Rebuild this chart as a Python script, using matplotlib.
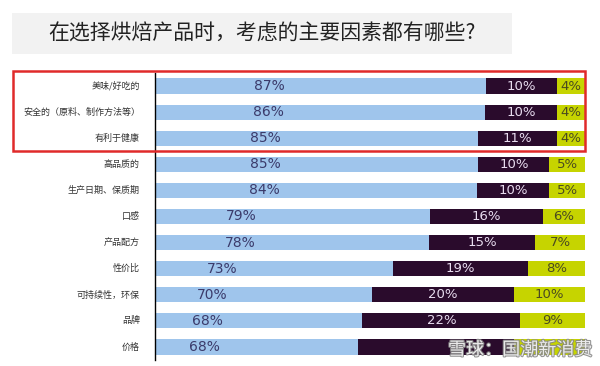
import matplotlib
matplotlib.use("Agg")
import matplotlib.pyplot as plt
from matplotlib.patches import Rectangle
import matplotlib.patheffects as pe

plt.rcParams['font.family'] = ['Noto Sans CJK SC', 'DejaVu Sans']

title = "在选择烘焙产品时，考虑的主要因素都有哪些?"
categories = ["美味/好吃的", "安全的（原料、制作方法等）", "有利于健康", "高品质的",
              "生产日期、保质期", "口感", "产品配方", "性价比", "可持续性，环保", "品牌", "价格"]
important = [87, 86, 85, 85, 84, 79, 78, 73, 70, 68, 68]
neutral = [10, 10, 11, 10, 10, 16, 15, 19, 20, 22, 22]
unimportant = [4, 4, 4, 5, 5, 6, 7, 8, 10, 9, 10]
show_label = [True] * 10 + [False]

c_blue = "#9fc5ec"
c_dark = "#2a0b2c"
c_lime = "#c6d400"

fig = plt.figure(figsize=(6, 3.66), dpi=100)
ax = fig.add_axes([155/600, 1-360/366, (585-155)/600, 287/366])

n = len(categories)
ys = list(range(n))
h = 0.58
left_lim = 39.5

tot = [a + b + c for a, b, c in zip(important, neutral, unimportant)]
w1 = [a * 100 / t for a, t in zip(important, tot)]
w2 = [b * 100 / t for b, t in zip(neutral, tot)]
w3 = [c * 100 / t for c, t in zip(unimportant, tot)]
l2 = w1
l3 = [a + b for a, b in zip(w1, w2)]

ax.barh(ys, w1, height=h, color=c_blue, left=0)
ax.barh(ys, w2, height=h, color=c_dark, left=l2)
ax.barh(ys, w3, height=h, color=c_lime, left=l3)

ax.set_xlim(left_lim, 100)
ax.set_ylim(n - 0.5, -0.5)

for i in range(n):
    ax.text((w1[i] + 25) / 2, i, f"{important[i]}%", ha="center", va="center",
            fontsize=10, color="#3b3b6b", family=["DejaVu Sans"])
    if show_label[i]:
        ax.text(l2[i] + w2[i] / 2, i, f"{neutral[i]}%", ha="center", va="center",
                fontsize=9.5, color="#e8dcef", family=["DejaVu Sans"])
        ax.text(l3[i] + w3[i] / 2, i, f"{unimportant[i]}%", ha="center", va="center",
                fontsize=9.5, color="#4a4a20", family=["DejaVu Sans"])
    ax.text(-0.035, i, categories[i], transform=ax.get_yaxis_transform(), ha="right",
            va="center", fontsize=6.5, color="#333333")

for s in ["top", "right", "bottom"]:
    ax.spines[s].set_visible(False)
ax.spines["left"].set_color("black")
ax.spines["left"].set_linewidth(1.0)
ax.set_xticks([])
ax.set_yticks([])

# title box
fig.patches.append(Rectangle((12/600, 1-54/366), 500/600, 41/366, transform=fig.transFigure,
                             facecolor="#f2f2f2", edgecolor="none", zorder=0))
fig.text(262/600, 1-34/366, title, ha="center", va="center", fontsize=15, color="#222222")

# red highlight rectangle
fig.patches.append(Rectangle((13/600, 1-151/366), 572/600, 80/366, transform=fig.transFigure,
                             facecolor="none", edgecolor="#e02a2a", linewidth=1.8, zorder=5))

# watermark
fig.text(592/600, 1-350/366, "雪球：国潮新消费", ha="right", va="center", fontsize=13,
         color="#f4f4f4", alpha=0.9,
         path_effects=[pe.withStroke(linewidth=1.5, foreground="#888888")])

fig.savefig("out.png", dpi=100)
